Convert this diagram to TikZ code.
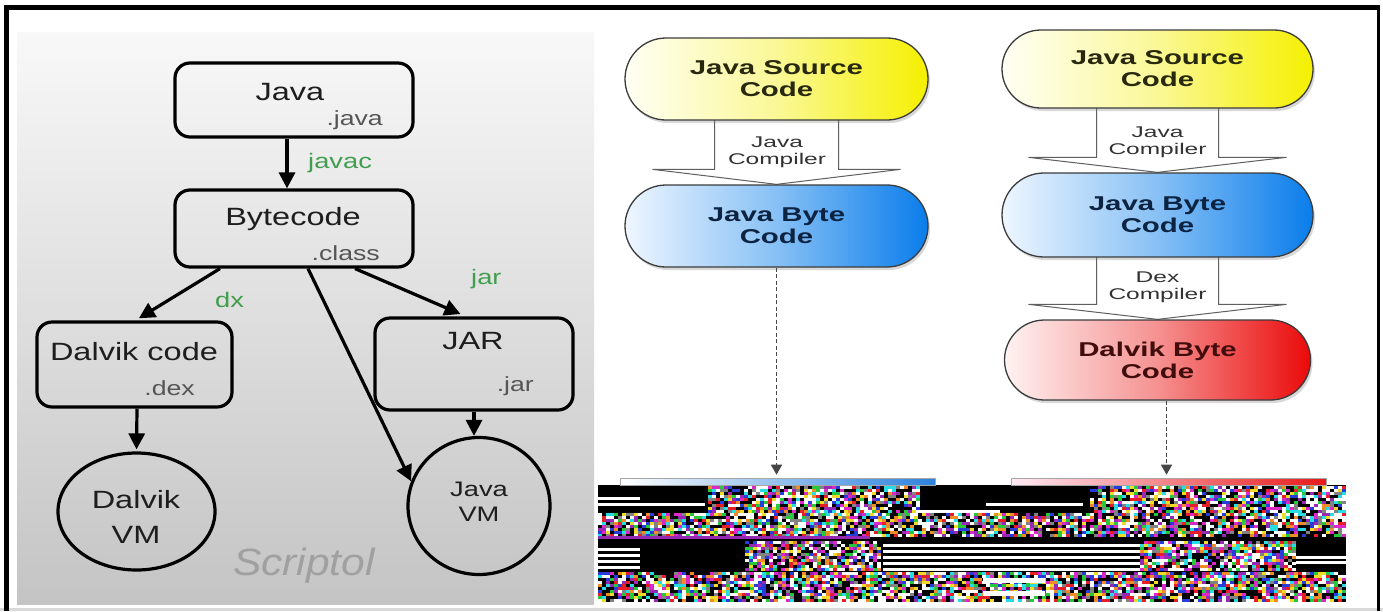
\documentclass[tikz,border=0pt]{standalone}
\usepackage{fontspec}
\setmainfont{Liberation Sans}
\newfontfamily\lpfont[FakeStretch=1.3]{Liberation Sans}
\newfontfamily\rpfont[FakeStretch=1.47]{Liberation Sans}
\newfontfamily\smfont[FakeStretch=1.58]{Liberation Sans}
\newfontfamily\scfont[FakeStretch=1.12]{Liberation Sans}
\usetikzlibrary{arrows.meta,shapes.misc,shapes.geometric,shadows,calc}
\pgfdeclarelayer{back}
\pgfdeclarelayer{mid}
\pgfsetlayers{back,mid,main}

\definecolor{panelTop}{RGB}{248,248,248}
\definecolor{panelBot}{RGB}{196,196,196}
\definecolor{txtdark}{RGB}{30,30,30}
\definecolor{txtgray}{RGB}{85,85,85}
\definecolor{txtgreen}{RGB}{65,158,78}
\definecolor{scgray}{RGB}{160,160,160}
\definecolor{stadline}{RGB}{60,60,60}
\definecolor{blkline}{RGB}{95,95,95}
\definecolor{dashgray}{RGB}{70,70,70}
\definecolor{yL}{RGB}{255,255,245}
\definecolor{yM}{RGB}{250,248,150}
\definecolor{yR}{RGB}{245,240,0}
\definecolor{bL}{RGB}{238,246,255}
\definecolor{bM}{RGB}{135,192,245}
\definecolor{bR}{RGB}{10,125,235}
\definecolor{rL}{RGB}{255,242,242}
\definecolor{rM}{RGB}{245,145,145}
\definecolor{rR}{RGB}{235,10,10}
\definecolor{ytext}{RGB}{40,40,15}
\definecolor{btext}{RGB}{12,35,65}
\definecolor{rtext}{RGB}{65,12,12}
\definecolor{smtext}{RGB}{50,50,50}
\definecolor{barblue}{RGB}{45,130,220}
\definecolor{barredL}{RGB}{255,235,245}
\definecolor{barred}{RGB}{232,25,25}
\definecolor{nzr}{RGB}{230,30,40}
\definecolor{nzg}{RGB}{40,200,60}
\definecolor{nzb}{RGB}{40,60,220}
\definecolor{nzc}{RGB}{40,220,230}
\definecolor{nzm}{RGB}{220,40,200}
\definecolor{nzy}{RGB}{240,220,40}
\definecolor{nzo}{RGB}{240,140,40}
\definecolor{nzp}{RGB}{150,40,180}
\definecolor{nzq}{RGB}{130,130,130}

\pgfmathdeclarerandomlist{nz}{{black}{black}{black}{black}{white}{white}{white}{nzr}{nzg}{nzb}{nzc}{nzm}{nzy}{nzo}{nzp}{nzq}}

\newcommand\noisepatch[4]{%
  \pgfmathtruncatemacro\nxx{(#3-#1)/4-1}%
  \pgfmathtruncatemacro\nyy{(#4-#2)/3-1}%
  \foreach \i in {0,...,\nxx}{\foreach \j in {0,...,\nyy}{%
    \pgfmathrandomitem{\nzcol}{nz}%
    \fill[\nzcol] (#1+4*\i,#2+3*\j) rectangle ++(4,3);}}}

\newcommand\blkarrow[4]{%
  \draw[blockarr] ($(#1)+(-#3,-3)$) -- ($(#2)+(-#3,-15)$) -- ($(#2)+(-#4,-15)$)
    -- (#2) -- ($(#2)+(#4,-15)$) -- ($(#2)+(#3,-15)$) -- ($(#1)+(#3,-3)$) -- cycle;}

\tikzset{
  lbox/.style={draw=black, line width=3.2pt, rounded corners=15pt, inner sep=0pt},
  lell/.style={draw=black, line width=3.2pt, ellipse, inner sep=0pt},
  larr/.style={line width=3.2pt, -{Triangle[length=16pt,width=16pt]}},
  maintxt/.style={text=txtdark, font=\lpfont\fontsize{25}{28}\selectfont, anchor=base, inner sep=0pt},
  vmtxt/.style={text=txtdark, font=\lpfont\fontsize{21}{24}\selectfont, anchor=base, inner sep=0pt},
  subtxt/.style={text=txtgray, font=\lpfont\fontsize{20.5}{24}\selectfont, anchor=base east, inner sep=0pt},
  grntxt/.style={text=txtgreen, font=\lpfont\fontsize{21}{24}\selectfont, anchor=base west, inner sep=0pt},
  sctxt/.style={text=scgray, font=\scfont\itshape\fontsize{38}{40}\selectfont, anchor=base, inner sep=0pt},
  stad/.style={rounded rectangle, draw=stadline, line width=1.3pt, inner sep=0pt, align=center,
    font=\rpfont\bfseries\fontsize{20}{22}\selectfont,
    drop shadow={shadow xshift=2pt, shadow yshift=-3pt, opacity=0.3}},
  yfill/.style={left color=yL, right color=yR, middle color=yM, text=ytext},
  bfill/.style={left color=bL, right color=bR, middle color=bM, text=btext},
  rfill/.style={left color=rL, right color=rR, middle color=rM, text=rtext},
  blockarr/.style={fill=white, draw=blkline, line width=1pt, line join=miter},
  smtxt/.style={text=smtext, align=center, inner sep=0pt, font=\smfont\fontsize{15.5}{17}\selectfont},
  dasharr/.style={draw=dashgray, line width=1.6pt, dash pattern=on 4pt off 2.5pt, -{Triangle[length=10pt,width=11pt]}},
  bar/.style={draw=gray!70, line width=0.6pt, minimum height=7pt, inner sep=0pt}
}

\begin{document}
\begin{tikzpicture}[x=1pt,y=-1pt]
\useasboundingbox (0,0) rectangle (1383,611);
\pgfmathsetseed{12345}
\begin{pgfonlayer}{back}
  \fill[white] (0,0) rectangle (1383,611);
  \shade[top color=panelTop, bottom color=panelBot] (17,32) rectangle (594,604);
  \fill[gray!30] (0,608) rectangle (1383,611);
\end{pgfonlayer}

% ---------- left panel ----------
\node[lbox, minimum width=238pt, minimum height=74pt] (java) at (294,100) {};
\node[lbox, minimum width=238pt, minimum height=77pt] (byte) at (294,228.5) {};
\node[lbox, minimum width=195pt, minimum height=85pt] (dalv) at (134.5,364.5) {};
\node[lbox, minimum width=198pt, minimum height=92pt] (jarb) at (474,364) {};
\node[lell, minimum width=157pt, minimum height=117pt] (dvm) at (136.5,511.5) {};
\node[lell, minimum width=142pt, minimum height=137pt] (jvm) at (479,506) {};

\node[maintxt] (tjava) at (290,100) {Java};
\node[subtxt] (tjavaext) at (383,125) {.java};
\node[maintxt] (tbyte) at (293,225) {Bytecode};
\node[subtxt] (tclass) at (380,260) {.class};
\node[grntxt] (tjavac) at (308,168) {javac};
\node[maintxt] (tdalv) at (134,360) {Dalvik code};
\node[subtxt] (tdex) at (195,395) {.dex};
\node[grntxt] (tdx) at (215,307) {dx};
\node[maintxt] (tjar) at (473,349) {JAR};
\node[subtxt] (tjarext) at (534,391) {.jar};
\node[grntxt] (tjargrn) at (471,284) {jar};
\node[maintxt] (tdvm1) at (136,508) {Dalvik};
\node[maintxt] (tdvm2) at (136,543) {VM};
\node[vmtxt] (tjvm1) at (479,496) {Java};
\node[vmtxt] (tjvm2) at (479,521) {VM};
\node[sctxt] (tscript) at (304,575) {Scriptol};

\draw[larr] ([xshift=-7pt]java.south) -- ([xshift=-7pt]byte.north);
\draw[larr, shorten >=4pt] ([xshift=-74pt]byte.south) -- ([xshift=1pt]dalv.north);
\draw[larr, shorten >=6pt] ([xshift=61pt]byte.south) -- ([xshift=-8pt]jarb.north);
\draw[larr] ([xshift=14pt]byte.south) -- (jvm.160);
\draw[larr, shorten >=2pt] ([xshift=2.5pt]dalv.south) -- (dvm.north);
\draw[larr] (jarb.south) -- (jarb.south |- jvm.north);

% ---------- right panel ----------
\node[stad, yfill, minimum width=303pt, minimum height=82pt] (ys1) at (776.5,79) {Java Source\\Code};
\node[stad, bfill, minimum width=303pt, minimum height=82pt] (bs1) at (776.5,226) {Java Byte\\Code};
\node[stad, yfill, minimum width=311pt, minimum height=78pt] (ys2) at (1157.5,69) {Java Source\\Code};
\node[stad, bfill, minimum width=311pt, minimum height=84pt] (bs2) at (1157.5,215) {Java Byte\\Code};
\node[stad, rfill, minimum width=306pt, minimum height=80pt] (rs2) at (1157.5,360) {Dalvik Byte\\Code};

\begin{pgfonlayer}{mid}
  \blkarrow{ys1.south}{bs1.north}{62}{124}
  \blkarrow{ys2.south}{bs2.north}{61}{129}
  \blkarrow{bs2.south}{rs2.north}{61}{129}
\end{pgfonlayer}
\node[smtxt] (lc1) at (777,152) {Java\\Compiler};
\node[smtxt] (lc2) at (1157.5,142) {Java\\Compiler};
\node[smtxt] (lc3) at (1157.5,287) {Dex\\Compiler};

% corrupted strip
\fill[black] (598,485) rectangle (1346,602);
\noisepatch{708}{486}{920}{513}
\noisepatch{1090}{486}{1346}{513}
\noisepatch{598}{513}{1346}{537}
\noisepatch{745}{541}{883}{572}
\noisepatch{1140}{541}{1296}{572}
\noisepatch{598}{572}{1346}{602}
\fill[nzp] (598,536) rectangle (870,538.5);
\foreach \xa/\xb/\yy in {598/640/497, 598/640/503, 640/705/503, 920/1000/510, 986/1083/503,
   598/640/548, 598/640/554, 598/640/560, 598/640/566,
   883/1140/544, 883/1140/550, 883/1140/556, 883/1140/562, 883/1140/568,
   1296/1346/556, 1296/1346/561}
  {\fill[white] (\xa,\yy) rectangle (\xb,\yy+2.5);}
\fill[white] (983,578) rectangle (1045,583);
\fill[white] (983,591) rectangle (1045,596);

\node[bar, left color=white, right color=barblue, minimum width=315pt] (bar1) at (777.5,481.5) {};
\node[bar, left color=barredL, right color=barred, minimum width=315pt] (bar2) at (1168.5,481.5) {};

\draw[dasharr, shorten >=3pt] (bs1.south) -- (bs1.south |- bar1.north);
\draw[dasharr, shorten >=3pt] ([xshift=-2pt]bar2.north |- rs2.south) -- ([xshift=-2pt]bar2.north);

% frame
\fill[black] (4,5) rectangle (1380,10);
\fill[black] (4,5) rectangle (9,611);
\fill[black] (1377,5) rectangle (1380,611);
\end{tikzpicture}
\end{document}
